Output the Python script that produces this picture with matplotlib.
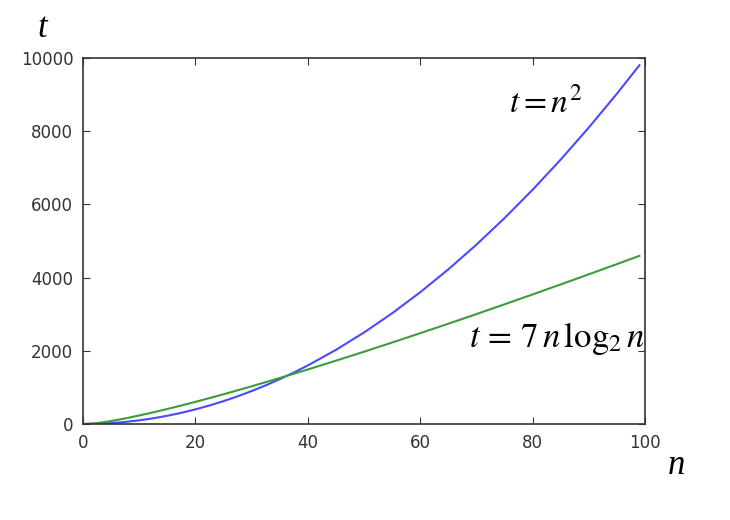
import matplotlib
matplotlib.use('Agg')
import matplotlib.pyplot as plt

# 取样点 n 及两条曲线的数值
n = [0, 2.5, 5, 7.5, 10, 12.5, 15, 17.5, 20, 22.5, 25, 27.5, 30, 32.5, 35, 37.5,
     40, 45, 50, 55, 60, 65, 70, 75, 80, 85, 90, 95, 99]
t_square = [0, 6, 25, 56, 100, 156, 225, 306, 400, 506, 625, 756, 900, 1056, 1225, 1406,
            1600, 2025, 2500, 3025, 3600, 4225, 4900, 5625, 6400, 7225, 8100, 9025, 9801]
t_nlogn = [0, 23, 81, 153, 233, 319, 410, 506, 605, 708, 813, 920, 1030, 1143, 1257, 1373,
           1490, 1730, 1975, 2226, 2481, 2740, 3003, 3270, 3540, 3814, 4090, 4369, 4594]

xticks = [0, 20, 40, 60, 80, 100]
yticks = [0, 2000, 4000, 6000, 8000, 10000]

plt.rcParams['mathtext.fontset'] = 'stix'

fig = plt.figure(figsize=(7.3, 5.2), dpi=100)
ax = fig.add_axes([0.1137, 0.1846, 0.7699, 0.7039])
ax.plot(n, t_square, color='#4a4aff', lw=1.5)
ax.plot(n, t_nlogn, color='#3c9c3c', lw=1.5)

ax.set_xlim(0, 100)
ax.set_ylim(0, 10000)
ax.set_xticks(xticks)
ax.set_yticks(yticks)
ax.tick_params(direction='in', length=5, labelsize=12, colors='#333333',
               top=True, right=True, pad=7)
for s in ax.spines.values():
    s.set_linewidth(1.2)
    s.set_color('#333333')

ax.text(75.8, 8500, r'$t=n^2$', fontsize=24, color='black')
ax.text(68.6, 2100, r'$t\,{=}\,7\,n\,\mathrm{log}_2\,n$', fontsize=25, color='black')

fig.text(0.058, 0.945, 't', fontsize=25, style='italic',
         family='Liberation Serif', ha='center', va='center')
fig.text(0.926, 0.105, 'n', fontsize=25, style='italic',
         family='Liberation Serif', ha='center', va='center')

fig.savefig('out.png', dpi=100)
